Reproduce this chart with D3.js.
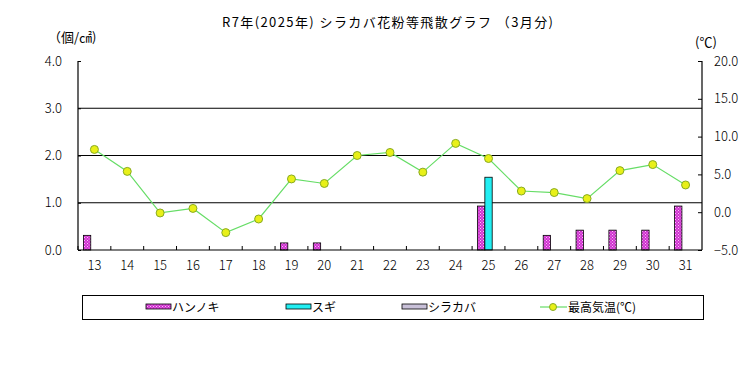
<!DOCTYPE html>
<html><head><meta charset="utf-8">
<script src="https://cdn.jsdelivr.net/npm/d3@7"></script>
<style>body{margin:0;background:#fff}svg{display:block}text{font-family:"Noto Sans CJK JP","DejaVu Sans",sans-serif;font-size:12px;fill:#000}</style>
</head><body><svg id="c" width="756" height="378"></svg>
<script>
const days = ["13","14","15","16","17","18","19","20","21","22","23","24","25","26","27","28","29","30","31"];
const hannoki = [0.31,0,0,0,0,0,0.15,0.15,0,0,0,0,0.93,0,0.31,0.42,0.42,0.42,0.93];
const sugi = [0,0,0,0,0,0,0,0,0,0,0,0,1.54,0,0,0,0,0,0];
const shirakaba = [0,0,0,0,0,0,0,0,0,0,0,0,0,0,0,0,0,0,0];
const maxTemp = [8.3,5.4,-0.1,0.5,-2.7,-0.9,4.4,3.8,7.5,7.9,5.3,9.1,7.1,2.8,2.6,1.8,5.5,6.3,3.6];
const leftTicks = [0,1,2,3,4];
const rightTicks = [-5,0,5,10,15,20];
const seriesNames = ["ハンノキ","スギ","シラカバ"];
const title = "R7年(2025年) シラカバ花粉等飛散グラフ （3月分)";

const svg = d3.select("#c");
const L=78,R=702,T=61,B=250;
const x = d3.scaleBand().domain(days).range([L,R]).paddingInner(0).paddingOuter(0);
const yL = d3.scaleLinear().domain([0,4]).range([B,T]);
const yR = d3.scaleLinear().domain([-5,20]).range([B,T]);
const x1 = d3.scaleBand().domain(seriesNames).range([0,x.bandwidth()]).paddingInner(0).paddingOuter(0.74);

const defs = svg.append("defs");
const pat = defs.append("pattern").attr("id","dots").attr("patternUnits","userSpaceOnUse").attr("width",3).attr("height",3);
pat.append("rect").attr("width",3).attr("height",3).attr("fill","#d02ed0");
pat.append("rect").attr("x",0).attr("y",0).attr("width",1).attr("height",1).attr("fill","#f6c8f6");
pat.append("rect").attr("x",1.5).attr("y",1.5).attr("width",1).attr("height",1).attr("fill","#f6c8f6");

const fills = {"ハンノキ":"url(#dots)","スギ":"#22eef2","シラカバ":"#c8c0d8"};
const seriesData = {"ハンノキ":hannoki,"スギ":sugi,"シラカバ":shirakaba};

// title
svg.append("text").attr("x",222).attr("y",27).attr("textLength",331).attr("lengthAdjust","spacing").style("font-size","13px").text(title);
svg.append("text").attr("x",48).attr("y",42).style("font-size","13px").text("（個/㎠)");
svg.append("text").attr("x",695).attr("y",47).style("font-size","13px").text("(℃)");

// gridlines
svg.append("g").selectAll("line").data([1,2,3]).join("line")
  .attr("x1",L).attr("x2",R).attr("y1",d=>yL(d)).attr("y2",d=>yL(d)).attr("stroke","#000").attr("stroke-width",1.2);

// bars
seriesNames.forEach(s=>{
  svg.append("g").selectAll("rect").data(seriesData[s].map((v,i)=>({v,d:days[i]})).filter(o=>o.v>0)).join("rect")
    .attr("x",o=>x(o.d)+x1(s)).attr("width",x1.bandwidth())
    .attr("y",o=>yL(o.v)).attr("height",o=>B-yL(o.v))
    .attr("fill",fills[s]).attr("stroke","#000").attr("stroke-width",0.8);
});

// axes
const gL = svg.append("g").attr("transform",`translate(${L},0)`).call(d3.axisLeft(yL).tickValues(leftTicks).tickSize(-3).tickPadding(16).tickFormat(d3.format(".1f")));
const gR = svg.append("g").attr("transform",`translate(${R},0)`).call(d3.axisRight(yR).tickValues(rightTicks).tickSize(-4).tickPadding(12).tickFormat(d3.format(".1f")));
const gB = svg.append("g").attr("transform",`translate(0,${B})`).call(d3.axisBottom(x).tickSize(0).tickPadding(11));
[gL,gR,gB].forEach(g=>{g.select(".domain").remove();g.selectAll("text").style("font-size","13px").style("font-weight","300").attr("font-family",null);g.selectAll("line").attr("stroke","#000");g.attr("font-family",null).attr("font-size",null);});
// boundary ticks
svg.append("g").selectAll("line").data(days).join("line")
  .attr("x1",d=>x(d)).attr("x2",d=>x(d)).attr("y1",B).attr("y2",B-4).attr("stroke","#000");
svg.append("line").attr("x1",L).attr("x2",L).attr("y1",T).attr("y2",B).attr("stroke","#000").attr("stroke-width",1.2);
svg.append("line").attr("x1",R).attr("x2",R).attr("y1",T).attr("y2",B).attr("stroke","#000").attr("stroke-width",1.2);
svg.append("line").attr("x1",L).attr("x2",R).attr("y1",B).attr("y2",B).attr("stroke","#000").attr("stroke-width",1.2);

// temp line
const cx = d=>x(d)+x.bandwidth()/2;
svg.append("path").datum(maxTemp).attr("fill","none").attr("stroke","#66dd66").attr("stroke-width",1.2)
  .attr("d",d3.line().x((v,i)=>cx(days[i])).y(v=>yR(v)));
svg.append("g").selectAll("circle").data(maxTemp).join("circle")
  .attr("cx",(v,i)=>cx(days[i])).attr("cy",v=>yR(v)).attr("r",4)
  .attr("fill","#e8f018").attr("stroke","#88aa22").attr("stroke-width",1);

// legend
svg.append("rect").attr("x",82.5).attr("y",295.5).attr("width",621).attr("height",24).attr("fill","none").attr("stroke","#000");
const legItems = [{n:"ハンノキ",x:146},{n:"スギ",x:286},{n:"シラカバ",x:402}];
legItems.forEach(it=>{
  svg.append("rect").attr("x",it.x).attr("y",304).attr("width",25).attr("height",5).attr("fill",fills[it.n]).attr("stroke","#000").attr("stroke-width",0.8);
  svg.append("text").attr("x",it.x+26).attr("y",312).text(it.n);
});
svg.append("line").attr("x1",540).attr("x2",567).attr("y1",307).attr("y2",307).attr("stroke","#66dd66").attr("stroke-width",1.2);
svg.append("circle").attr("cx",553).attr("cy",307).attr("r",3.5).attr("fill","#e8f018").attr("stroke","#88aa22");
svg.append("text").attr("x",568).attr("y",312).text("最高気温(℃)");
</script></body></html>
